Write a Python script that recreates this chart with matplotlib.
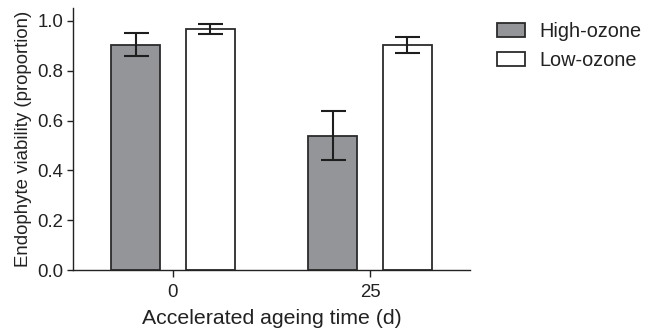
import matplotlib
matplotlib.use("Agg")
import matplotlib.pyplot as plt
import numpy as np

plt.rcParams['font.family'] = ['Liberation Sans', 'DejaVu Sans']

# data
ageing_days = ['0', '25']
high_ozone = [0.905, 0.54]
high_err = [0.045, 0.10]
low_ozone = [0.968, 0.905]
low_err = [0.019, 0.032]

grey = '#939598'
edge = '#2b2b2b'

fig = plt.figure(figsize=(6.51, 3.35), dpi=100)
ax = fig.add_axes([0.112, 0.194, 0.61, 0.782])

x = np.arange(len(ageing_days))
w = 0.25
off = 0.19
ax.bar(x - off, high_ozone, w, color=grey, edgecolor=edge, linewidth=1.3,
       label='High-ozone', zorder=2)
ax.bar(x + off, low_ozone, w, color='white', edgecolor=edge, linewidth=1.3,
       label='Low-ozone', zorder=2)
ax.errorbar(x - off, high_ozone, yerr=high_err, fmt='none', ecolor='#1e1e1e',
            elinewidth=1.5, capsize=9, capthick=1.5, zorder=3)
ax.errorbar(x + off, low_ozone, yerr=low_err, fmt='none', ecolor='#1e1e1e',
            elinewidth=1.5, capsize=9, capthick=1.5, zorder=3)

ax.set_xlim(-0.508, 1.508)
ax.set_ylim(0, 1.052)
ax.set_xticks(x)
ax.set_xticklabels(ageing_days)
ax.set_yticks(np.arange(0, 1.01, 0.2))
ax.set_yticklabels(['%.1f' % v for v in np.arange(0, 1.01, 0.2)])

for s in ['top', 'right']:
    ax.spines[s].set_visible(False)
for s in ['left', 'bottom']:
    ax.spines[s].set_linewidth(1.0)
    ax.spines[s].set_color('#222222')
ax.tick_params(axis='both', direction='out', width=1.0, color='#222222',
               labelsize=13.4, labelcolor='#222222')
ax.tick_params(axis='x', length=5, pad=5)
ax.tick_params(axis='y', length=4.3, pad=2.5)

ax.set_xlabel('Accelerated ageing time (d)', fontsize=15.3, color='#222222', labelpad=6)
ax.set_ylabel('Endophyte viability (proportion)', fontsize=13.4, color='#222222', labelpad=4)

ax.legend(loc='upper left', bbox_to_anchor=(0.742, 0.975), bbox_transform=fig.transFigure,
          frameon=False, fontsize=14.3, handlelength=1.4, handleheight=0.7,
          handletextpad=0.75, labelspacing=0.5, borderaxespad=0.3,
          labelcolor='#222222')

fig.savefig('out.png', dpi=100)
